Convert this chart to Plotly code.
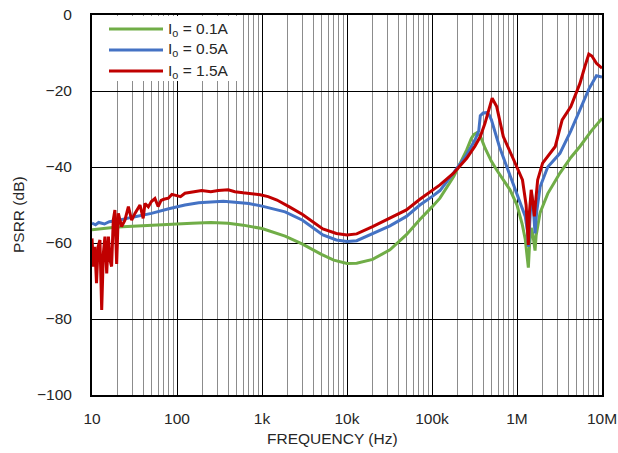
import plotly.graph_objects as go

# ---------------- data ----------------
freq_01 = [10, 12, 15, 20, 30, 50, 100, 150, 250, 400, 600, 1000, 1870, 3000, 5000, 7000,
           10000, 13000, 20000, 32000, 50000, 72000, 100000, 124000, 180000, 256000, 290000,
           310000, 336000, 370000, 420000, 500000, 577000, 700000, 828000, 1000000, 1150000,
           1250000, 1330000, 1360000, 1400000, 1470000, 1530000, 1600000, 1630000, 1680000,
           1870000, 2300000, 3200000, 4300000, 5500000, 7500000, 10000000]
psrr_01 = [-56.5, -56.3, -56.0, -55.8, -55.6, -55.3, -55.0, -54.8, -54.6, -54.8, -55.3, -56.2,
           -58.2, -60.3, -63.0, -64.5, -65.4, -65.3, -64.3, -61.8, -57.8, -53.8, -50.5, -48.2,
           -42.5, -35.5, -32.5, -31.5, -31.0, -31.8, -35.0, -38.5, -40.8, -43.5, -46.0, -50.0,
           -55.0, -59.0, -64.0, -66.5, -61.0, -56.0, -57.5, -61.5, -62.0, -58.0, -52.0, -47.0,
           -41.6, -37.5, -34.6, -30.5, -27.2]

freq_05 = [10, 11, 12, 14, 16, 20, 30, 50, 80, 124, 180, 256, 350, 480, 700, 1000, 1870, 3000,
           5200, 7500, 10000, 13000, 20000, 32000, 50000, 72000, 100000, 124000, 180000, 256000,
           320000, 355000, 370000, 400000, 437000, 470000, 500000, 620000, 760000, 960000,
           1150000, 1250000, 1330000, 1370000, 1410000, 1480000, 1550000, 1630000, 1700000,
           1870000, 2300000, 3200000, 4300000, 5500000, 7000000, 8600000, 10000000]
psrr_05 = [-54.8, -55.2, -54.6, -55.0, -54.4, -54.1, -53.2, -52.2, -51.0, -50.0, -49.4, -49.1,
           -49.0, -49.3, -49.6, -50.3, -51.8, -54.0, -57.9, -59.2, -59.6, -59.4, -57.5, -55.5,
           -53.0, -50.0, -47.8, -46.2, -41.5, -36.8, -32.9, -30.5, -26.5, -25.8, -25.7, -26.3,
           -27.6, -34.6, -40.0, -46.0, -50.5, -53.0, -57.0, -61.0, -55.0, -47.0, -50.0, -57.5,
           -52.0, -45.2, -40.0, -36.4, -30.5, -25.0, -19.5, -16.0, -16.3]

freq_15 = [10, 10.4, 10.8, 11.3, 11.8, 12.4, 13.0, 13.6, 14.2, 14.9, 15.6, 16.3, 17.0, 17.8,
           18.6, 19.5, 20.4, 22.3, 24.4, 26.8, 29.3, 32, 36.7, 40, 42, 46, 50, 55, 60, 65, 70,
           79, 87, 95, 110, 124, 160, 195, 250, 305, 400, 480, 600, 750, 950, 1180, 1500, 2100,
           3000, 5200, 7500, 10000, 13000, 20000, 32000, 50000, 72000, 100000, 124000, 178000,
           256000, 320000, 370000, 420000, 457000, 510000, 577000, 690000, 897000, 1160000,
           1280000, 1330000, 1360000, 1400000, 1470000, 1550000, 1600000, 1660000, 1750000,
           2000000, 2400000, 2820000, 3100000, 3400000, 4300000, 5500000, 6300000, 7000000,
           7600000, 8600000, 10000000]
psrr_15 = [-58.8, -66.2, -61.0, -70.6, -61.0, -59.2, -77.6, -62.7, -58.3, -68.0, -58.3, -64.5,
           -66.2, -53.9, -51.3, -65.5, -52.2, -55.7, -54.0, -50.4, -54.0, -52.2, -50.0, -53.5,
           -49.6, -50.5, -49.1, -48.3, -50.4, -48.8, -48.5, -48.2, -47.2, -47.4, -47.8, -46.9,
           -46.6, -46.2, -46.5, -46.2, -46.0, -46.5, -46.8, -47.1, -47.3, -47.8, -48.7, -50.5,
           -52.5, -56.3, -57.5, -57.9, -57.6, -55.7, -53.5, -51.3, -48.5, -46.3, -44.7, -41.7,
           -37.7, -34.5, -32.0, -28.5, -25.9, -21.9, -24.1, -32.0, -37.7, -43.4, -50.0, -56.0,
           -60.5, -52.0, -46.0, -50.0, -53.0, -49.0, -43.4, -39.0, -36.5, -34.6, -31.0, -27.6,
           -24.1, -18.0, -13.5, -10.3, -10.8, -12.7, -14.0]

series_names = ["I<sub>o</sub> = 0.1A", "I<sub>o</sub> = 0.5A", "I<sub>o</sub> = 1.5A"]
series_colors = ["#70AD47", "#4472C4", "#C00000"]

x_tickvals = [10, 100, 1000, 10000, 100000, 1000000, 10000000]
x_ticktext = ["10", "100", "1k", "10k", "100k", "1M", "10M"]
y_tickvals = [0, -20, -40, -60, -80, -100]

# ---------------- figure ----------------
FONT = "Liberation Sans, Arial, sans-serif"
FS = 15.5
TXT = "#262626"
W, H = 618, 453
# plot box in window pixels: x 92..602, y 15..395
L, R, T, B = 92, W - 602, 15, H - 395
PW, PH = W - L - R, H - T - B


def px(xp):
    return (xp - L) / PW


def py(yp):
    return (H - B - yp) / PH


fig = go.Figure()
for f, v, c in zip([freq_01, freq_05, freq_15], [psrr_01, psrr_05, psrr_15], series_colors):
    fig.add_trace(go.Scatter(x=f, y=v, mode="lines", line=dict(color=c, width=3),
                             showlegend=False, hoverinfo="skip"))

fig.update_layout(
    width=W, height=H,
    margin=dict(l=L, r=R, t=T, b=B, pad=0, autoexpand=False),
    paper_bgcolor="white", plot_bgcolor="white",
    font=dict(family=FONT, size=FS, color=TXT),
    showlegend=False,
)
fig.update_xaxes(
    type="log", range=[1, 7], automargin=False, ticklabeloverflow="allow",
    tickvals=x_tickvals, ticktext=x_ticktext,
    showgrid=True, gridcolor="#000000", gridwidth=1,
    minor=dict(dtick="D1", showgrid=True, gridcolor="#8c8c8c", gridwidth=1, ticks=""),
    showline=True, linecolor="#000000", linewidth=2, mirror=True,
    ticks="", ticklabelstandoff=8, zeroline=False,
    tickfont=dict(family=FONT, size=FS, color=TXT),
)
fig.update_yaxes(
    range=[-100, 0], automargin=False, ticklabeloverflow="allow", tickvals=y_tickvals,
    showgrid=True, gridcolor="#000000", gridwidth=1,
    showline=True, linecolor="#000000", linewidth=2, mirror=True,
    ticks="", ticklabelstandoff=15, zeroline=False,
    tickfont=dict(family=FONT, size=FS, color=TXT),
)

# axis titles
fig.add_annotation(text="FREQUENCY (Hz)", xref="paper", yref="paper", x=px(332), y=py(439),
                   showarrow=False, xanchor="center", yanchor="middle",
                   font=dict(family=FONT, size=FS, color=TXT))
fig.add_annotation(text="PSRR (dB)", xref="paper", yref="paper", x=px(18), y=py(215),
                   showarrow=False, xanchor="center", yanchor="middle", textangle=-90,
                   font=dict(family=FONT, size=FS, color=TXT))

# custom legend
fig.add_shape(type="rect", xref="paper", yref="paper", x0=px(93), x1=px(240), y0=py(81), y1=py(16),
              line=dict(width=0), fillcolor="white", layer="above")
for i, (name, c) in enumerate(zip(series_names, series_colors)):
    yc = 29 + 21 * i
    fig.add_shape(type="line", xref="paper", yref="paper", x0=px(109), x1=px(163),
                  y0=py(yc), y1=py(yc), line=dict(color=c, width=3), layer="above")
    fig.add_annotation(text=name, xref="paper", yref="paper", x=px(166), y=py(yc),
                       showarrow=False, xanchor="left", yanchor="middle",
                       font=dict(family=FONT, size=FS, color=TXT))

fig.write_html("out.html",
               config={"displayModeBar": False, "staticPlot": True},
               post_script="document.body.style.margin='0';document.body.style.overflow='hidden';")
